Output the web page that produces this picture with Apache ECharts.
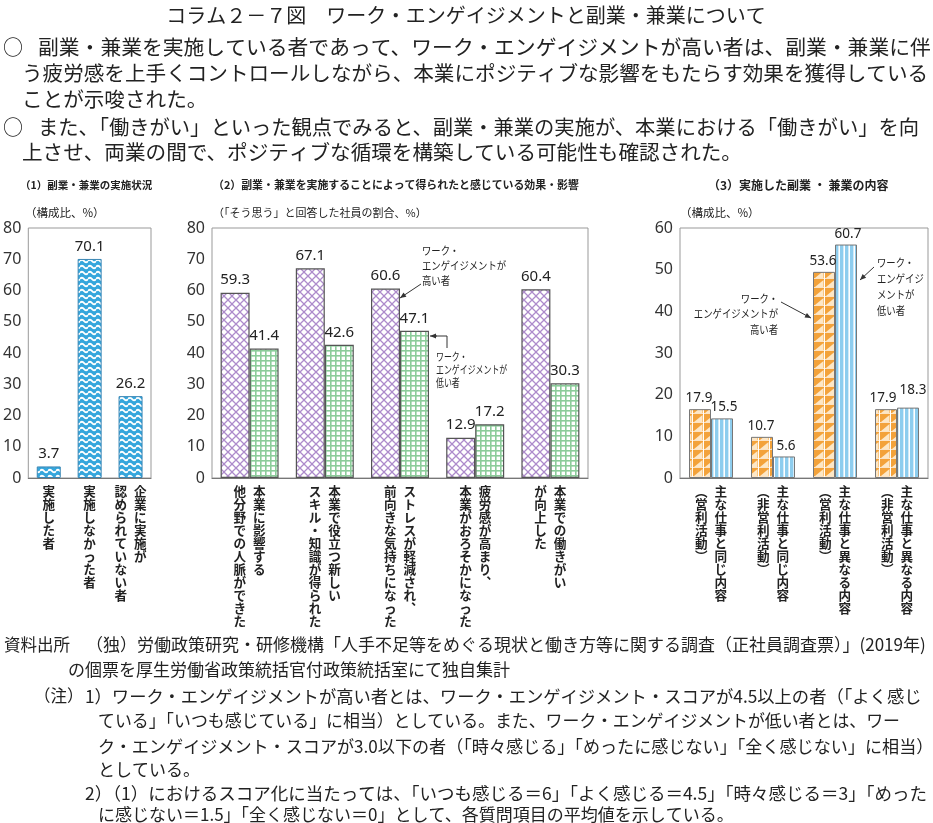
<!DOCTYPE html>
<html><head><meta charset="utf-8">
<script src="https://cdn.jsdelivr.net/npm/echarts@6/dist/echarts.min.js"></script>
<style>html,body{margin:0;padding:0;background:#fff}#c{width:933px;height:823px}</style>
</head><body><div id="c"></div>
<script>
// ---------- data ----------
const cats1 = ["実施した者", "実施しなかった者", "企業に実施が\n認められていない者"];
const vals1 = [3.7, 70.1, 26.2];
const yAxis1 = [0, 80, 10]; // min, max, interval

const cats2 = ["本業に影響する\n他分野での人脈ができた", "本業で役立つ新しい\nスキル・知識が得られた", "ストレスが軽減され、\n前向きな気持ちになった", "疲労感が高まり、\n本業がおろそかになった", "本業での働きがい\nが向上した"];
const high2 = [59.3, 67.1, 60.6, 12.9, 60.4];
const low2 = [41.4, 42.6, 47.1, 17.2, 30.3];
const yAxis2 = [0, 80, 10];

const cats3 = ["主な仕事と同じ内容\n（営利活動）", "主な仕事と同じ内容\n（非営利活動）", "主な仕事と異なる内容\n（営利活動）", "主な仕事と異なる内容\n（非営利活動）"];
const high3 = [17.9, 10.7, 53.6, 17.9];
const low3 = [15.5, 5.6, 60.7, 18.3];
const yAxis3 = [0, 60, 10];
const barScale3 = [0, 65]; // scale the reference draws panel (3) bars with

const seriesNames = ["ワーク・エンゲイジメントが高い者", "ワーク・エンゲイジメントが低い者"];

const titleText = "コラム２－７図　ワーク・エンゲイジメントと副業・兼業について";
const bodyLines = [
  ["○", "副業・兼業を実施している者であって、ワーク・エンゲイジメントが高い者は、副業・兼業に伴"],
  ["", "う疲労感を上手くコントロールしながら、本業にポジティブな影響をもたらす効果を獲得している"],
  ["", "ことが示唆された。"],
  ["○", "また、「働きがい」といった観点でみると、副業・兼業の実施が、本業における「働きがい」を向"],
  ["", "上させ、両業の間で、ポジティブな循環を構築している可能性も確認された。"]
];
const panelTitles = ["（1）副業・兼業の実施状況", "（2）副業・兼業を実施することによって得られたと感じている効果・影響", "（3）実施した副業 ・ 兼業の内容"];
const unitTexts = ["（構成比、%）", "（「そう思う」と回答した社員の割合、%）", "（構成比、%）"];
const footLines = [
  ["資料出所", "（独）労働政策研究・研修機構「人手不足等をめぐる現状と働き方等に関する調査（正社員調査票）」(2019年)"],
  ["", "の個票を厚生労働省政策統括官付政策統括室にて独自集計"],
  ["（注）", "1）ワーク・エンゲイジメントが高い者とは、ワーク・エンゲイジメント・スコアが4.5以上の者（「よく感じ"],
  ["", "ている」「いつも感じている」に相当）としている。また、ワーク・エンゲイジメントが低い者とは、ワー"],
  ["", "ク・エンゲイジメント・スコアが3.0以下の者（「時々感じる」「めったに感じない」「全く感じない」に相当）"],
  ["", "としている。"],
  ["", "2）（1）におけるスコア化に当たっては、「いつも感じる＝6」「よく感じる＝4.5」「時々感じる＝3」「めった"],
  ["", "に感じない＝1.5」「全く感じない＝0」として、各質問項目の平均値を示している。"]
];
const annHigh2 = "ワーク・\nエンゲイジメントが\n高い者";
const annLow2 = "ワーク・\nエンゲイジメントが\n低い者";
const annHigh3 = "ワーク・\nエンゲイジメントが\n高い者";
const annLow3 = "ワーク・\nエンゲイジ\nメントが\n低い者";

// ---------- styles ----------
const JP = "'Noto Sans CJK JP', 'Noto Sans', sans-serif";
const NUM = "'Noto Sans', 'Noto Sans CJK JP', sans-serif";

function pat(w, h, draw) {
  const c = document.createElement('canvas'); c.width = w; c.height = h;
  const g = c.getContext('2d'); draw(g, w, h);
  return { image: c, repeat: 'repeat' };
}
const patWave = pat(8, 6, (g, w, h) => {
  g.fillStyle = '#35a6dc'; g.fillRect(0, 0, w, h);
  g.strokeStyle = '#ffffff'; g.lineWidth = 2;
  g.beginPath(); g.moveTo(0, 3); g.quadraticCurveTo(2, 0.5, 4, 3); g.quadraticCurveTo(6, 5.5, 8, 3); g.stroke();
});
const patPurple = pat(8, 8, (g, w, h) => {
  g.fillStyle = '#ffffff'; g.fillRect(0, 0, w, h);
  g.strokeStyle = '#ad8bcb'; g.lineWidth = 1.3;
  g.beginPath(); g.moveTo(0, 0); g.lineTo(8, 8); g.moveTo(8, 0); g.lineTo(0, 8); g.stroke();
});
const patGreen = pat(5, 5, (g, w, h) => {
  g.fillStyle = '#ffffff'; g.fillRect(0, 0, w, h);
  g.fillStyle = '#8ccc9a'; g.fillRect(0, 0, w, 1.6); g.fillRect(0, 0, 1.6, h);
});
const patOrange = pat(11, 9, (g, w, h) => {
  g.fillStyle = '#f3a23a'; g.fillRect(0, 0, w, h);
  g.fillStyle = '#fde7c6';
  g.beginPath(); g.moveTo(1, 8); g.lineTo(9.5, 1); g.lineTo(9.5, 8); g.closePath(); g.fill();
  g.fillStyle = '#ffffff'; g.fillRect(10, 0, 1, h); g.fillRect(0, 8.3, w, 0.7);
});
const patStripe = pat(5, 10, (g, w, h) => {
  g.fillStyle = '#8ecdee'; g.fillRect(0, 0, w, h);
  g.fillStyle = '#ffffff'; g.fillRect(3.4, 0, 1.6, h);
});

const vmap = { '、': '︑', '（': '︵', '）': '︶', '。': '︒' };
function vlabel(value) {
  const toChars = s => Array.from(s).map(ch => vmap[ch] || ch);
  const cols = value.split('\n');
  if (cols.length === 1) return toChars(cols[0]).map(ch => '{c|' + ch + '}').join('\n');
  const r = toChars(cols[0]), l = toChars(cols[1]);
  const n = Math.max(r.length, l.length), rows = [];
  for (let i = 0; i < n; i++) rows.push('{c|' + (l[i] || '　') + '}{c|' + (r[i] || '　') + '}');
  return rows.join('\n');
}
const catLabel = {
  interval: 0, margin: 7, formatter: vlabel, verticalAlign: 'top',
  rich: { c: { width: 19.5, align: 'center', fontSize: 12.6, lineHeight: 13, fontFamily: JP, fontWeight: 'bold', color: '#222' } }
};
function xAx(gi, data) {
  return { type: 'category', gridIndex: gi, data: data,
    axisLine: { lineStyle: { color: '#777', width: 1.2 } }, axisTick: { show: false }, axisLabel: catLabel };
}
function yAx(gi, r, show) {
  return { type: 'value', gridIndex: gi, min: r[0], max: r[1], interval: r[2], show: show !== false,
    axisLine: { show: false }, axisTick: { show: false }, splitLine: { show: false },
    axisLabel: { color: '#333', fontSize: 16, fontFamily: NUM, margin: 7 } };
}
const valLabel = { show: true, position: 'top', distance: 5, color: '#222', fontSize: 15, fontFamily: NUM, formatter: p => p.value.toFixed(1) };
const valLabel3 = Object.assign({}, valLabel, { fontSize: 13.5, distance: 4 });
const gridStyle = { show: true, borderColor: '#999', borderWidth: 1 };

// label nudges so crowded neighbouring labels sit as in the reference
const high3Data = high3.map((v, i) => i === 3 ? { value: v, label: { offset: [-3, 0] } } : v);
const low3Data = low3.map((v, i) => i === 3 ? { value: v, label: { offset: [5, -7] } } : v);

// ---------- graphics (texts & annotation arrows) ----------
const G = [];
function txt(x, y, s, font, opt) {
  G.push(Object.assign({ type: 'text', x: x, y: y, silent: true,
    style: Object.assign({ text: s, font: font, fill: '#222', textAlign: 'left', textVerticalAlign: 'middle' }, (opt && opt.style) || {}) },
    (opt && opt.el) || {}));
}
function arrow(x1, y1, x2, y2) {
  G.push({ type: 'line', silent: true, shape: { x1: x1, y1: y1, x2: x2, y2: y2 }, style: { stroke: '#333', lineWidth: 1 } });
  const a = Math.atan2(y2 - y1, x2 - x1), L = 6, W = 2.6;
  const bx = x2 - L * Math.cos(a), by = y2 - L * Math.sin(a);
  G.push({ type: 'polygon', silent: true, shape: { points: [[x2, y2], [bx - W * Math.sin(a), by + W * Math.cos(a)], [bx + W * Math.sin(a), by - W * Math.cos(a)]] }, style: { fill: '#333' } });
}

txt(466, 15, titleText, `20px ${JP}`, { style: { textAlign: 'center' } });
const bodyY = [47, 73, 99, 127, 152];
const bodySize = [20.8, 20.6, 20.6, 20.3, 20.6];
bodyLines.forEach((ln, i) => {
  if (ln[0]) txt(3, bodyY[i], ln[0], `20px ${JP}`);
  txt(ln[0] ? 38 : 22, bodyY[i], ln[1], `${bodySize[i]}px ${JP}`);
});
txt(20, 185, panelTitles[0], `bold 10.5px ${JP}`);
txt(213, 185, panelTitles[1], `bold 10.9px ${JP}`);
txt(708, 185, panelTitles[2], `bold 12px ${JP}`);
txt(25, 213, unitTexts[0], `11.5px ${JP}`);
txt(213, 213, unitTexts[1], `11px ${JP}`);
txt(680, 213, unitTexts[2], `11.5px ${JP}`);

const footY = [645, 670, 696, 721, 746, 770, 793, 815];
const footSize = [17, 17, 17.3, 16.9, 17.1, 17, 17.5, 17];
footLines.forEach((ln, i) => {
  const f = `${footSize[i]}px ${JP}`;
  if (i === 0) { txt(4, footY[i], ln[0], `16.5px ${JP}`); txt(86, footY[i], ln[1], f); }
  else if (i === 1) txt(68, footY[i], ln[1], f);
  else if (i === 2) { txt(34, footY[i], ln[0], `16.5px ${JP}`); txt(85, footY[i], ln[1], f); }
  else if (i === 6) txt(85, footY[i], ln[1], f);
  else txt(98, footY[i], ln[1], f);
});

// annotations
txt(422, 266, annHigh2, `11px ${JP}`, { style: { lineHeight: 15 }, el: { scaleX: 0.85 } });
arrow(421, 284, 400, 298);
txt(436, 370, annLow2, `11px ${JP}`, { style: { lineHeight: 13 }, el: { scaleX: 0.72 } });
G.push({ type: 'polyline', silent: true, shape: { points: [[447, 348], [447, 336], [436, 336]] }, style: { stroke: '#333', lineWidth: 1, fill: null } });
arrow(437, 336, 430, 336);
txt(778, 314, annHigh3, `11px ${JP}`, { style: { textAlign: 'right', lineHeight: 15.5 }, el: { scaleX: 0.85 } });
arrow(781, 302, 811, 318);
txt(877, 287, annLow3, `11px ${JP}`, { style: { lineHeight: 16 }, el: { scaleX: 0.85 } });
arrow(874, 267, 860, 280);

// ---------- chart ----------
const chart = echarts.init(document.getElementById('c'), null, { renderer: 'canvas' });
chart.setOption({
  animation: false,
  backgroundColor: '#fff',
  textStyle: { fontFamily: JP },
  grid: [
    Object.assign({ left: 25, right: 933 - 151, top: 228, bottom: 823 - 478 }, gridStyle),
    Object.assign({ left: 212, right: 933 - 588, top: 228, bottom: 823 - 478 }, gridStyle),
    Object.assign({ left: 680, right: 933 - 928, top: 228, bottom: 823 - 478 }, gridStyle)
  ],
  xAxis: [xAx(0, cats1), xAx(1, cats2), xAx(2, cats3)],
  yAxis: [yAx(0, yAxis1), yAx(1, yAxis2), yAx(2, yAxis3), { type: 'value', gridIndex: 2, min: barScale3[0], max: barScale3[1], show: false, splitLine: { show: false } }],
  series: [
    { type: 'bar', xAxisIndex: 0, yAxisIndex: 0, data: vals1, barWidth: 24,
      itemStyle: { color: patWave, borderColor: '#3b86b4', borderWidth: 1 }, label: valLabel },
    { type: 'bar', name: seriesNames[0], xAxisIndex: 1, yAxisIndex: 1, data: high2, barWidth: 29, barGap: '0%',
      itemStyle: { color: patPurple, borderColor: '#555', borderWidth: 1.2 }, label: valLabel },
    { type: 'bar', name: seriesNames[1], xAxisIndex: 1, yAxisIndex: 1, data: low2, barWidth: 29, barGap: '0%',
      itemStyle: { color: patGreen, borderColor: '#555', borderWidth: 1.2 }, label: valLabel },
    { type: 'bar', name: seriesNames[0], xAxisIndex: 2, yAxisIndex: 3, data: high3Data, barWidth: 22, barGap: '0%',
      itemStyle: { color: patOrange, borderColor: '#777', borderWidth: 1 }, label: Object.assign({}, valLabel3, { offset: [-1, 0] }) },
    { type: 'bar', name: seriesNames[1], xAxisIndex: 2, yAxisIndex: 3, data: low3Data, barWidth: 22, barGap: '0%',
      itemStyle: { color: patStripe, borderColor: '#777', borderWidth: 1 }, label: Object.assign({}, valLabel3, { offset: [2, 0] }) }
  ],
  graphic: G
});
</script>
</body></html>
